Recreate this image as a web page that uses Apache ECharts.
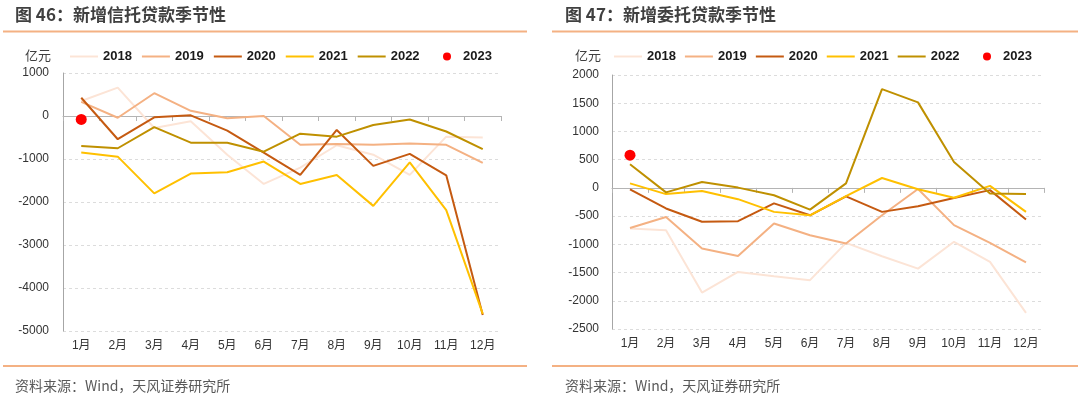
<!DOCTYPE html>
<html>
<head>
<meta charset="utf-8">
<script src="https://cdn.jsdelivr.net/npm/echarts@6/dist/echarts.min.js"></script>
<style>
  html, body { margin: 0; padding: 0; background: #fff; }
  #main { width: 1080px; height: 396px; }
</style>
</head>
<body>
<div id="main"></div>
<script>
  // 月份
  const months = ['1月', '2月', '3月', '4月', '5月', '6月', '7月', '8月', '9月', '10月', '11月', '12月']
  const years = ['2018', '2019', '2020', '2021', '2022']
  const yearColors = ['#FCE4D6', '#F4B183', '#C55A11', '#FFC000', '#BF9000']

  // 图46 新增信托贷款（亿元）
  const trust2018 = [350, 660, -280, -120, -900, -1580, -1200, -680, -900, -1370, -480, -500]
  const trust2019 = [330, -40, 530, 120, -50, 0, -670, -650, -670, -640, -670, -1090]
  const trust2020 = [425, -540, -30, 15, -340, -850, -1370, -325, -1160, -880, -1380, -4630]
  const trust2021 = [-850, -945, -1800, -1340, -1310, -1060, -1580, -1370, -2090, -1080, -2190, -4600]
  const trust2022 = [-700, -750, -260, -620, -620, -830, -410, -480, -210, -80, -360, -770]
  const trust2023 = [-80]

  // 图47 新增委托贷款（亿元）
  const ent2018 = [-720, -750, -1855, -1490, -1565, -1635, -975, -1210, -1430, -955, -1310, -2215]
  const ent2019 = [-710, -515, -1075, -1205, -630, -840, -985, -485, -20, -660, -975, -1320]
  const ent2020 = [-25, -365, -600, -590, -275, -485, -150, -425, -325, -180, -40, -560]
  const ent2021 = [80, -110, -55, -200, -425, -485, -145, 175, -25, -175, 35, -425]
  const ent2022 = [420, -80, 105, 5, -130, -385, 80, 1750, 1515, 460, -100, -110]
  const ent2023 = [580]

  const numFont = "'Liberation Sans', 'Noto Sans CJK SC', sans-serif"
  const cjkFont = "'Noto Sans CJK SC', 'Liberation Sans', sans-serif"
  const orange = '#F4B183'

  function lineSeries(name, data, color, xi, yi) {
    return {
      name: name,
      type: 'line',
      xAxisIndex: xi,
      yAxisIndex: yi,
      symbol: 'none',
      lineStyle: { width: 2, color: color },
      itemStyle: { color: color },
      data: data
    }
  }

  function dotSeries(data, xi, yi) {
    return {
      name: '2023',
      type: 'scatter',
      xAxisIndex: xi,
      yAxisIndex: yi,
      symbolSize: 11,
      itemStyle: { color: '#FF0000', opacity: 1 },
      data: data
    }
  }

  function zeroAxis(gridIndex) {
    return {
      type: 'category',
      gridIndex: gridIndex,
      position: 'bottom',
      data: months,
      axisLine: { onZero: true, lineStyle: { color: '#b4b4b4', width: 1 } },
      axisTick: { show: true, length: 5, lineStyle: { color: '#b4b4b4' } },
      axisLabel: { show: false },
      splitLine: { show: false }
    }
  }

  function labelAxis(gridIndex) {
    return {
      type: 'category',
      gridIndex: gridIndex,
      position: 'bottom',
      data: months,
      axisLine: { show: false, onZero: false },
      axisTick: { show: false },
      axisLabel: { color: '#333', fontSize: 12, fontFamily: numFont, margin: 9 },
      splitLine: { show: false }
    }
  }

  function valueAxis(gridIndex, min, max, interval, margin) {
    return {
      type: 'value',
      gridIndex: gridIndex,
      min: min,
      max: max,
      interval: interval,
      axisLine: { show: true, lineStyle: { color: '#a6a6a6' } },
      axisTick: { show: false },
      axisLabel: {
        color: '#333',
        fontSize: 12,
        fontFamily: numFont,
        margin: margin,
        formatter: function (v) { return String(v) }
      },
      splitLine: { show: true, lineStyle: { color: '#dcdcdc', type: [3, 3], width: 1 } }
    }
  }

  function legendLines(left, gap) {
    return {
      left: left,
      top: 45,
      itemWidth: 28,
      itemHeight: 2,
      itemGap: gap,
      textStyle: { fontSize: 13, fontWeight: 'bold', color: '#1a1a1a', fontFamily: numFont },
      data: years.map(function (y) { return { name: y, icon: 'rect' } })
    }
  }

  function legendDot(left) {
    return {
      left: left,
      top: 45,
      itemWidth: 22,
      itemHeight: 8,
      textStyle: { fontSize: 13, fontWeight: 'bold', color: '#1a1a1a', fontFamily: numFont },
      data: [{ name: '2023', icon: 'circle' }]
    }
  }

  function textEl(x, y, text, font, fill) {
    return {
      type: 'text',
      x: x,
      y: y,
      style: { text: text, font: font, fill: fill, verticalAlign: 'middle' }
    }
  }

  function hLine(x1, x2, y) {
    return {
      type: 'line',
      shape: { x1: x1, y1: y, x2: x2, y2: y },
      style: { stroke: orange, lineWidth: 2 }
    }
  }

  const chart = echarts.init(document.getElementById('main'), null, { renderer: 'canvas' })

  chart.setOption({
    animation: false,
    legend: [legendLines(65, 10), legendDot(438), legendLines(609, 9), legendDot(978)],
    grid: [
      { left: 63, top: 73, width: 438, height: 258, containLabel: false },
      { left: 612, top: 75, width: 432, height: 254, containLabel: false }
    ],
    xAxis: [zeroAxis(0), labelAxis(0), zeroAxis(1), labelAxis(1)],
    yAxis: [
      valueAxis(0, -5000, 1000, 1000, 14),
      valueAxis(1, -2500, 2000, 500, 13)
    ],
    graphic: [
      textEl(15, 15, '图 46：新增信托贷款季节性', 'bold 17px ' + cjkFont, '#404040'),
      textEl(565, 15, '图 47：新增委托贷款季节性', 'bold 17px ' + cjkFont, '#404040'),
      hLine(3, 527, 31.5),
      hLine(552, 1078, 31.5),
      textEl(25, 55, '亿元', '13px ' + cjkFont, '#404040'),
      textEl(575, 55, '亿元', '13px ' + cjkFont, '#404040'),
      hLine(3, 527, 366),
      hLine(552, 1078, 366),
      textEl(15, 386, '资料来源：Wind，天风证券研究所', '14px ' + cjkFont, '#595959'),
      textEl(565, 386, '资料来源：Wind，天风证券研究所', '14px ' + cjkFont, '#595959')
    ],
    series: [
      lineSeries('2018', trust2018, yearColors[0], 0, 0),
      lineSeries('2019', trust2019, yearColors[1], 0, 0),
      lineSeries('2020', trust2020, yearColors[2], 0, 0),
      lineSeries('2021', trust2021, yearColors[3], 0, 0),
      lineSeries('2022', trust2022, yearColors[4], 0, 0),
      dotSeries(trust2023, 0, 0),
      lineSeries('2018', ent2018, yearColors[0], 2, 1),
      lineSeries('2019', ent2019, yearColors[1], 2, 1),
      lineSeries('2020', ent2020, yearColors[2], 2, 1),
      lineSeries('2021', ent2021, yearColors[3], 2, 1),
      lineSeries('2022', ent2022, yearColors[4], 2, 1),
      dotSeries(ent2023, 2, 1)
    ]
  })
</script>
</body>
</html>
